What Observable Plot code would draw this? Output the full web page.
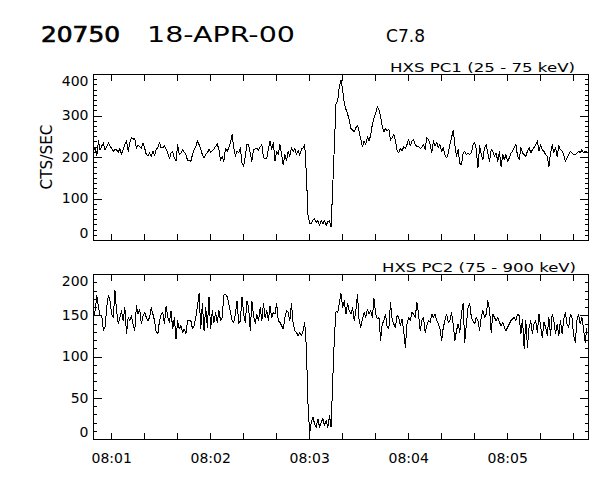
<!DOCTYPE html>
<html><head><meta charset="utf-8">
<script src="https://cdn.jsdelivr.net/npm/d3@7"></script>
<script src="https://cdn.jsdelivr.net/npm/@observablehq/plot@0.6"></script>
<style>
body{margin:0;background:#fff;}
#wrap{position:relative;width:600px;height:480px;overflow:hidden;background:#fff;}
#wrap > svg{position:absolute;left:0;}
</style></head><body><div id="wrap"></div>
<script>
// ---- data ----
const startTime = "2000-04-18T08:00:49Z";
const endTime = "2000-04-18T08:05:49Z";
const cadenceSec = 1;
const pc1Values = [
215,225,205,240,218,228,235,218,225,235,228,
222,215,220,218,212,222,207,220,231,240,
215,235,247,244,246,222,230,226,222,235,
223,207,203,211,203,215,205,220,223,237,
223,223,228,221,211,197,211,215,199,191,
231,207,211,219,213,207,193,193,191,207,
219,225,240,231,219,207,199,207,211,219,
213,217,221,227,233,219,193,203,191,221,
215,223,235,256,223,203,215,211,223,186,
178,203,231,231,211,191,219,221,
222,218,225,231,199,197,197,220,240,220,
236,191,215,207,231,207,182,207,193,215,
203,223,215,221,207,217,205,220,223,231,
160,62,42,40,50,52,44,48,36,48,
40,48,36,45,48,32,131,230,332,336,
372,387,364,330,316,305,290,270,266,262,
272,278,262,244,226,240,231,250,240,254,
280,296,306,322,316,300,274,262,270,264,
268,242,248,256,240,218,211,222,216,226,
222,231,244,228,240,244,231,226,226,222,225,
231,219,248,244,231,211,240,228,236,224,
231,215,224,207,199,211,231,248,266,231,
203,219,186,182,211,215,207,211,207,211,
231,236,219,174,228,207,195,224,231,211,
191,219,215,203,211,191,215,178,207,195,
207,191,199,211,215,224,231,203,195,224,
211,207,203,215,224,211,219,224,231,240,
215,231,219,215,207,203,178,211,231,211,
224,203,228,219,215,207,191,199,207,215,
211,207,207,211,215,211,219,211,215,213
];
const pc2Values = [
148,156,175,160,150,150,132,136,160,175,168,
152,148,181,156,140,148,156,144,160,128,
148,144,150,140,132,162,152,158,140,150,
154,148,144,148,160,152,144,130,128,144,
152,154,140,162,148,142,156,134,148,122,
144,134,138,130,134,128,144,144,144,134,
138,148,162,177,134,165,132,160,136,173,
134,156,142,154,142,156,144,148,175,176,
173,165,154,144,142,152,168,140,144,173,
152,142,168,160,132,168,150,141,
152,144,160,144,165,148,156,144,162,148,
154,152,165,144,142,138,134,148,156,154,
144,165,140,132,130,126,130,126,132,142,
112,43,8,21,27,19,15,25,15,21,
25,17,23,15,29,15,72,124,156,154,
165,177,160,168,152,165,156,152,160,144,
156,176,144,136,146,154,148,158,152,156,
148,171,152,146,148,120,140,144,152,136,
134,166,146,140,136,150,148,138,146,132,
112,140,148,144,154,152,148,166,152,132,144,
148,130,138,144,142,152,148,152,144,140,
134,120,136,144,152,142,144,154,140,120,
132,140,130,152,165,118,140,160,165,148,
144,140,148,144,132,148,156,148,152,168,
158,130,152,148,144,148,142,138,142,136,
132,136,140,144,146,148,144,152,150,128,
146,110,144,112,136,144,128,140,144,130,
152,136,124,142,136,126,148,126,152,144,
128,140,126,144,128,146,154,140,136,152,
148,126,118,144,152,140,148,134,118,135
];
const yTicksPC1 = [0, 100, 200, 300, 400];
const yTicksPC2 = [0, 50, 100, 150, 200];
const xTickLabels = ["08:01", "08:02", "08:03", "08:04", "08:05"];
const titleId = "20750";
const titleDate = "18-APR-00";
const flareClass = "C7.8";
const pc1Label = "HXS PC1 (25 - 75 keV)";
const pc2Label = "HXS PC2 (75 - 900 keV)";
const yLabel = "CTS/SEC";

// ---- build ----
const t0 = new Date(startTime), t1 = new Date(endTime);
const xMajor = xTickLabels.map(s => new Date(`2000-04-18T${s}:00Z`));
const xMinor = d3.utcSecond.every(20).range(t0, new Date(+t1 + 1));
const FONT = '"DejaVu Sans", sans-serif';

function panel({values, yTicks, minorStep, height, marginTop, marginBottom, showX}) {
  const yMax = yTicks[yTicks.length - 1];
  const data = values.map((v, i) => ({t: new Date(+t0 + i * cadenceSec * 1000), v}));
  const minor = d3.range(0, yMax + 1e-9, minorStep);
  const inner = yTicks.filter(d => d > 0 && d < yMax);
  const blank = () => "";
  const marks = [
    Plot.axisX(xMinor, {anchor: "bottom", tickSize: -6, tickFormat: blank, label: null}),
    Plot.axisX(xMinor, {anchor: "top", tickSize: -6, tickFormat: blank, label: null}),
    Plot.axisY(yTicks, {anchor: "left", tickSize: -9, tickFormat: blank, label: null}),
    Plot.axisY(minor, {anchor: "left", tickSize: -4, tickFormat: blank, label: null}),
    Plot.axisY(yTicks, {anchor: "right", tickSize: -9, tickFormat: blank, label: null}),
    Plot.axisY(minor, {anchor: "right", tickSize: -4, tickFormat: blank, label: null}),
    Plot.axisY(inner, {anchor: "left", tickSize: 0, tickPadding: 5, fontSize: 14, label: null}),
    Plot.axisY([yMax], {anchor: "left", tickSize: 0, tickPadding: 5, dy: 7, fontSize: 14, label: null}),
    Plot.axisY([0], {anchor: "left", tickSize: 0, tickPadding: 5, dy: -7, fontSize: 14, label: null}),
    Plot.frame({stroke: "black", strokeWidth: 1}),
    Plot.line(data, {x: "t", y: "v", stroke: "black", strokeWidth: 1})
  ];
  if (showX) {
    marks.push(Plot.axisX(xMajor, {anchor: "bottom", tickSize: 0, tickPadding: 14, fontSize: 14,
      tickFormat: d3.utcFormat("%H:%M"), label: null}));
  }
  return Plot.plot({
    width: 600, height,
    marginLeft: 93, marginRight: 12, marginTop, marginBottom,
    x: {type: "utc", domain: [t0, t1], label: null},
    y: {domain: [0, yMax], label: null},
    style: {fontFamily: FONT, fontSize: "14px", color: "black", background: "white", overflow: "visible", shapeRendering: "crispEdges"},
    marks
  });
}

const wrap = document.getElementById("wrap");
const p1 = panel({values: pc1Values, yTicks: yTicksPC1, minorStep: 12.5, height: 250, marginTop: 74, marginBottom: 10, showX: false});
p1.style.top = "0px";
const p2 = panel({values: pc2Values, yTicks: yTicksPC2, minorStep: 10, height: 230, marginTop: 24, marginBottom: 41, showX: true});
p2.style.top = "250px";
wrap.appendChild(p1);
wrap.appendChild(p2);

// titles & labels
const ov = d3.create("svg").attr("width", 600).attr("height", 480)
  .style("position", "absolute").style("left", "0px").style("top", "0px")
  .style("font-family", FONT).attr("fill", "black");
function txt(s, x, y, size, len, extra = {}) {
  const t = ov.append("text").attr("x", x).attr("y", y).attr("font-size", size)
    .attr("textLength", len).attr("lengthAdjust", "spacingAndGlyphs").text(s);
  for (const k in extra) t.attr(k, extra[k]);
  return t;
}
txt(titleId, 41, 41.5, 22, 79, {stroke: "black", "stroke-width": 0.7});
txt(titleDate, 147, 41.5, 21, 148);
txt(flareClass, 386, 42, 17, 39);
txt(pc1Label, 390, 72, 12, 185);
txt(pc2Label, 382, 271.5, 12, 194);
txt(yLabel, 0, 0, 15, 65, {"text-anchor": "middle", transform: "translate(52,157) rotate(-90)"});
wrap.appendChild(ov.node());
</script></body></html>
